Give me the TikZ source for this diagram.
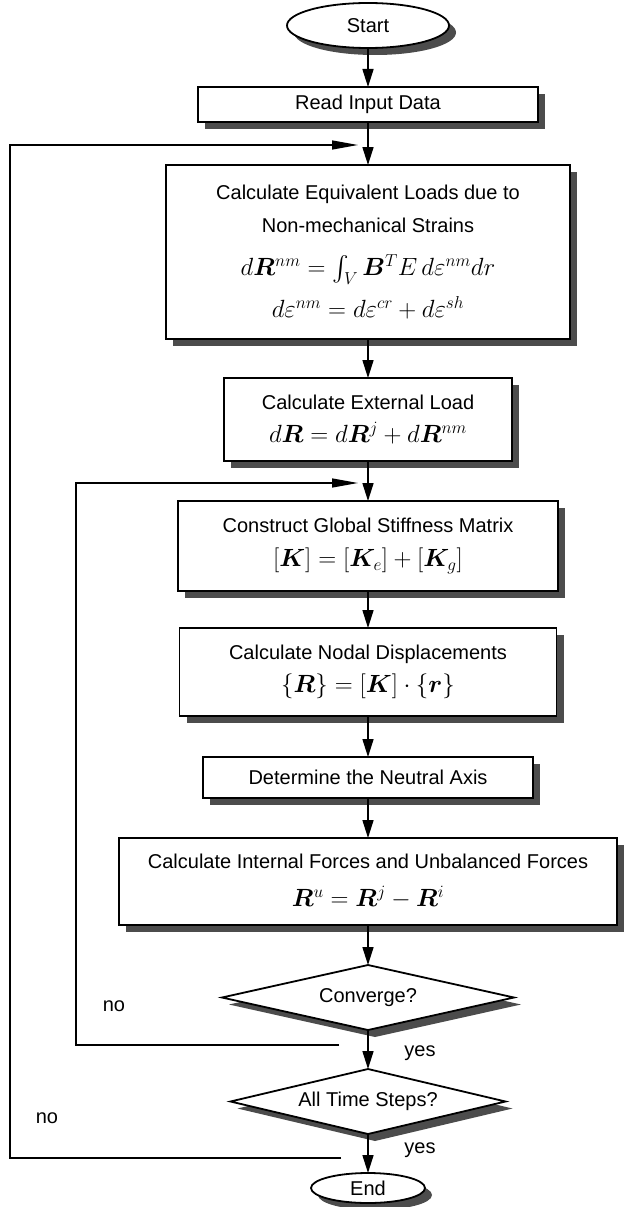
\documentclass[tikz,border=0pt]{standalone}
\usepackage{amsmath}
\usepackage{bm}
\usepackage[no-math]{fontspec}
\setmainfont{Liberation Sans}
\usepackage{tikz}
\usetikzlibrary{arrows.meta, positioning, calc, shapes.geometric, shadows}
\newcommand{\bigeq}[2]{{\fontsize{#1}{#1}\selectfont$#2$}}

\begin{document}
\begin{tikzpicture}[
    x=1pt, y=1pt,
    >={Triangle[length=18pt, width=11pt]},
    font=\fontsize{20}{24}\selectfont,
    shadowed/.style={drop shadow={shadow xshift=7pt, shadow yshift=-7pt, fill=black!70, opacity=1}},
    box/.style={draw, line width=1.8pt, fill=white, shadowed, inner sep=0pt, outer sep=0pt, align=center},
    term/.style={ellipse, draw, line width=1.8pt, fill=white, shadowed, inner sep=0pt, outer sep=0pt},
    test/.style={diamond, draw, line width=1.8pt, fill=white, shadowed, aspect=4.5, inner sep=0pt, outer sep=0pt},
    flow/.style={->, line width=1.6pt},
    back/.style={-{Triangle[length=26pt, width=9pt]}, line width=1.3pt},
]
    \useasboundingbox (0,0) rectangle (624,-1207);

    \node[term, minimum width=162pt, minimum height=45pt] (start) at (368,-25.5) {Start};
    \node[box, minimum width=340pt, minimum height=35pt, below=39pt of start] (read) {Read Input Data};
    \node[box, minimum width=404pt, minimum height=174pt, below=43pt of read] (equiv)
        {Calculate Equivalent Loads due to\\[9pt] Non-mechanical Strains\\[19pt]
         \bigeq{25}{d\bm{R}^{nm} = \int_V \bm{B}^T E\,d\varepsilon^{nm} dr}\\[11pt]
         \bigeq{25}{d\varepsilon^{nm} = d\varepsilon^{cr} + d\varepsilon^{sh}}};
    \node[box, minimum width=288pt, minimum height=83pt, below=39pt of equiv] (extload)
        {Calculate External Load\\[9pt] \bigeq{25}{d\bm{R} = d\bm{R}^{j} + d\bm{R}^{nm}}};
    \node[box, minimum width=380pt, minimum height=90pt, below=40pt of extload] (stiff)
        {Construct Global Stiffness Matrix\\[10pt] \bigeq{23}{[\bm{K}]=[\bm{K}_e]+[\bm{K}_g]}};
    \node[box, minimum width=377pt, minimum height=88pt, below=37pt of stiff] (disp)
        {Calculate Nodal Displacements\\[9pt] \bigeq{23}{\left\{\bm{R}\right\}=\left[\bm{K}\right]\cdot\left\{\bm{r}\right\}}};
    \node[box, minimum width=330pt, minimum height=41pt, below=41pt of disp] (axis) {Determine the Neutral Axis};
    \node[box, minimum width=498pt, minimum height=87pt, below=40pt of axis] (forces)
        {Calculate Internal Forces and Unbalanced Forces\\[14pt] \bigeq{27}{\bm{R}^{u} = \bm{R}^{j} - \bm{R}^{i}}};
    \node[test, minimum width=292pt, minimum height=65pt, below=40pt of forces] (conv) {Converge?};
    \node[test, minimum width=275pt, minimum height=65pt, below=39pt of conv] (steps) {All Time Steps?};
    \node[term, minimum width=114pt, minimum height=30pt, below=39pt of steps] (end) {End};

    \draw[flow] (start) -- (read);
    \draw[flow] (read) -- (equiv);
    \draw[flow] (equiv) -- (extload);
    \draw[flow] (extload) -- (stiff);
    \draw[flow] (stiff) -- (disp);
    \draw[flow] (disp) -- (axis);
    \draw[flow] (axis) -- (forces);
    \draw[flow] (forces) -- (conv);
    \draw[flow] (conv) -- (steps);
    \draw[flow] (steps) -- (end);

    % loops back
    \coordinate (iTip) at ($(stiff.north)+(-10,18)$);
    \coordinate (iStart) at ($(conv.south)+(-29,-15)$);
    \coordinate (oTip) at ($(equiv.north)+(-10,20)$);
    \coordinate (oStart) at ($(steps.south)+(-27,-24)$);
    \draw[back] (iStart) -- ++(-263,0) |- (iTip);
    \draw[back] (oStart) -- ++(-331,0) |- (oTip);

    \node (no1) at (114,-1006) {no};
    \node (yes1) at ($(conv.south)+(52,-23)$) {yes};
    \node (no2) at (47,-1118) {no};
    \node (yes2) at ($(steps.south)+(52,-16)$) {yes};
\end{tikzpicture}
\end{document}
